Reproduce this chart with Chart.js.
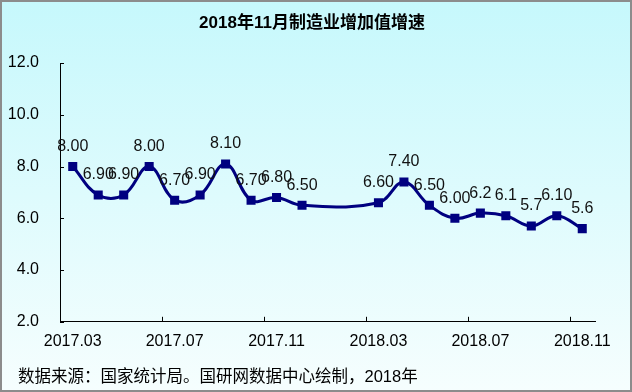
<!DOCTYPE html>
<html>
<head>
<meta charset="utf-8">
<script src="https://cdn.jsdelivr.net/npm/chart.js@4/dist/chart.umd.min.js"></script>
<style>
  html, body { margin: 0; padding: 0; background: #fff; }
  #wrap { width: 632px; height: 392px; position: relative; }
</style>
</head>
<body>
<div id="wrap"><canvas id="chart"></canvas></div>
<script>
// months, with Jan/Feb 2018 not published
const months = [
    "2017.03", "2017.04", "2017.05", "2017.06", "2017.07", "2017.08", "2017.09",
    "2017.10", "2017.11", "2017.12", "2018.01", "2018.02", "2018.03", "2018.04",
    "2018.05", "2018.06", "2018.07", "2018.08", "2018.09", "2018.10", "2018.11"
];
const growth = [8.0, 6.9, 6.9, 8.0, 6.7, 6.9, 8.1, 6.7, 6.8, 6.5, null, null,
    6.6, 7.4, 6.5, 6.0, 6.2, 6.1, 5.7, 6.1, 5.6];
const pointText = ["8.00", "6.90", "6.90", "8.00", "6.70", "6.90", "8.10", "6.70", "6.80", "6.50", "", "",
    "6.60", "7.40", "6.50", "6.00", "6.2", "6.1", "5.7", "6.10", "5.6"];
const yTicks = [2, 4, 6, 8, 10, 12];

const titleText = "2018年11月制造业增加值增速";
const footText = "数据来源：国家统计局。国研网数据中心绘制，2018年";

const FONT = "'Liberation Sans', 'Noto Sans CJK SC', Arial, sans-serif";

// background, title, source note and frame
const backdrop = {
    id: "backdrop",
    beforeDraw(chart)
    {
        const {ctx, width, height} = chart;
        const g = ctx.createLinearGradient(0, 0, 0, height);
        g.addColorStop(0, "#c6f8fc");
        g.addColorStop(1, "#f6fefe");
        ctx.save();
        ctx.fillStyle = g;
        ctx.fillRect(0, 0, width, height);
        ctx.restore();
    },
    afterDraw(chart)
    {
        const {ctx, width, height} = chart;
        ctx.save();
        ctx.fillStyle = "#000";
        ctx.textBaseline = "middle";

        ctx.font = "bold 17px " + FONT;
        ctx.textAlign = "center";
        ctx.fillText(titleText, 312, 23);

        ctx.font = "16.5px " + FONT;
        ctx.textAlign = "left";
        ctx.fillText(footText, 18, 377);

        ctx.strokeStyle = "#8c8c8c";
        ctx.lineWidth = 2;
        ctx.strokeRect(1, 1, width - 2, height - 2);
        ctx.restore();
    }
};

// short tick marks pointing into the plot, like the original
const innerTicks = {
    id: "innerTicks",
    afterDraw(chart)
    {
        const {ctx} = chart;
        const x = chart.scales.x, y = chart.scales.y;
        ctx.save();
        ctx.strokeStyle = "#000";
        ctx.lineWidth = 1;
        ctx.beginPath();
        for (let i = 4; i < months.length; i += 4)
        {
            const px = Math.round((x.getPixelForTick(i) + x.getPixelForTick(i - 1)) / 2) + 0.5;
            ctx.moveTo(px, y.bottom);
            ctx.lineTo(px, y.bottom - 5);
        }
        yTicks.forEach(v => {
            const py = Math.round(y.getPixelForValue(v)) + 0.5;
            ctx.moveTo(x.left, py);
            ctx.lineTo(x.left + 4, py);
        });
        ctx.stroke();
        ctx.restore();
    }
};

const valueText = {
    id: "valueText",
    afterDatasetsDraw(chart)
    {
        const {ctx} = chart;
        const meta = chart.getDatasetMeta(0);
        ctx.save();
        ctx.fillStyle = "#111";
        ctx.font = "16px " + FONT;
        ctx.textAlign = "center";
        ctx.textBaseline = "middle";
        meta.data.forEach((pt, i) => {
            if (growth[i] === null) return;
            ctx.fillText(pointText[i], pt.x, pt.y - 20);
        });
        ctx.restore();
    }
};

new Chart(document.getElementById("chart"), {
    type: "line",
    data: {
        labels: months,
        datasets: [{
            data: growth,
            borderColor: "#000080",
            backgroundColor: "#000080",
            borderWidth: 3,
            tension: 0.4,
            spanGaps: true,
            pointStyle: "rect",
            pointRadius: 6.4,
            pointBorderWidth: 0,
            pointHoverRadius: 6.4
        }]
    },
    options: {
        responsive: true,
        maintainAspectRatio: false,
        animation: false,
        events: [],
        layout: {padding: {left: 0, right: 37, top: 63, bottom: 31}},
        plugins: {
            legend: {display: false},
            tooltip: {enabled: false},
            title: {display: false}
        },
        scales: {
            x: {
                type: "category",
                offset: true,
                grid: {display: false, offset: true, drawTicks: false},
                border: {display: true, color: "#000", width: 1},
                ticks: {
                    autoSkip: false,
                    maxRotation: 0,
                    color: "#000",
                    padding: 10,
                    font: {family: FONT, size: 16},
                    callback: (v, i) => (i % 4 === 0 ? months[i] : "")
                }
            },
            y: {
                min: yTicks[0],
                max: yTicks[yTicks.length - 1],
                afterFit: s => { s.width = 60; },
                grid: {display: false, drawTicks: false},
                border: {display: true, color: "#000", width: 1},
                ticks: {
                    stepSize: 2,
                    color: "#000",
                    padding: 21,
                    font: {family: FONT, size: 16},
                    callback: v => v.toFixed(1)
                }
            }
        }
    },
    plugins: [backdrop, innerTicks, valueText]
});
</script>
</body>
</html>
